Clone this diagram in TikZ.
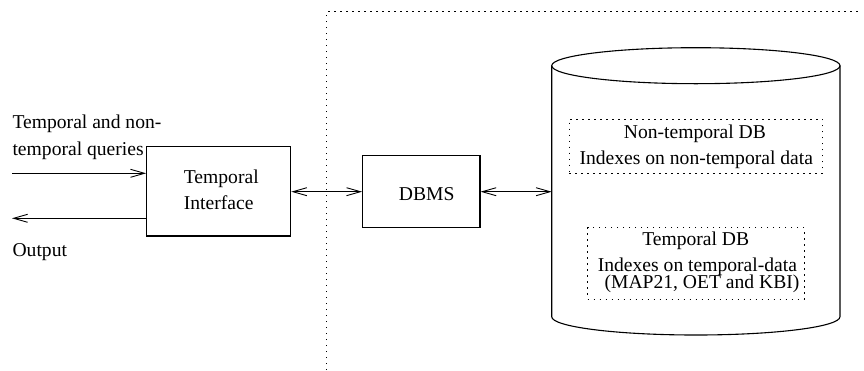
\documentclass[tikz,border=0pt]{standalone}
\usepackage{fontspec}
\setmainfont{Liberation Serif}
\newfontfamily\figserif{Liberation Serif}
\usetikzlibrary{arrows.meta}
\begin{document}
\begin{tikzpicture}[x=1pt,y=-1pt,
  font=\figserif\fontsize{19.6}{26}\selectfont,
  line width=1.1pt,
  box/.style={draw,rectangle,inner sep=0pt},
  dotbox/.style={draw,rectangle,inner sep=0pt,line width=1pt,dash pattern=on 1.4pt off 4.6pt},
  txt/.style={inner sep=0pt,anchor=base west},
  arr/.style={-{Straight Barb[length=14pt,width=8pt,line width=0.9pt]}},
  biarr/.style={{Straight Barb[length=14pt,width=8pt,line width=0.9pt]}-{Straight Barb[length=14pt,width=8pt,line width=0.9pt]}}]
\useasboundingbox (0,0) rectangle (864,370);

% dotted boundary of the database side
\draw[line width=1pt,dash pattern=on 1.4pt off 4.6pt] (326.7,370) -- (326.7,11.7) -- (862,11.7);

% front-end interface
\node[box,minimum width=144pt,minimum height=89.3pt] (ti) at (218.7,191.35) {};
\node[txt] (ti1) at (183.3,183) {Temporal};
\node[txt] (ti2) at (183.3,209) {Interface};

% query input and output
\node[txt] (q1) at (12,128.3) {Temporal and non-};
\node[txt] (q2) at (12,155) {temporal queries};
\node[txt] (out) at (12,256) {Output};
\coordinate (qin) at (12,173.3);
\coordinate (qout) at (12,218.3);
\draw[arr] (qin) -- (ti.west |- qin);
\draw[arr] (ti.west |- qout) -- (qout);

% DBMS
\node[box,minimum width=117.3pt,minimum height=72.4pt] (dbms) at (421.35,191.5) {};
\node[txt] (dbmst) at (398.3,200.5) {DBMS};

% database cylinder
\coordinate (cylw) at (551.7,191.7);
\draw (695.85,65.7) ellipse [x radius=144.15pt, y radius=18pt];
\draw (551.7,65.7) -- (551.7,316.7)
  .. controls (551.7,326.8) and (616.25,335) .. (695.85,335)
  .. controls (775.45,335) and (840,326.8) .. (840,316.7) -- (840,65.7);

% connectors
\draw[biarr] (ti.east |- cylw) -- (dbms.west |- cylw);
\draw[biarr] (dbms.east |- cylw) -- (cylw);

% stored data
\node[dotbox,minimum width=253pt,minimum height=54.3pt] (ntdb) at (695.8,146.15) {};
\node[txt] (nt1) at (623.3,138.3) {Non-temporal DB};
\node[txt] (nt2) at (579,164.3) {Indexes on non-temporal data};

\node[dotbox,minimum width=216.6pt,minimum height=71.3pt] (tdb) at (696,263.35) {};
\node[txt] (t1) at (641.7,245.7) {Temporal DB};
\node[txt] (t2) at (597.3,271.7) {Indexes on temporal-data};
\node[txt] (t3) at (604,288.3) {(MAP21, OET and KBI)};
\end{tikzpicture}
\end{document}
